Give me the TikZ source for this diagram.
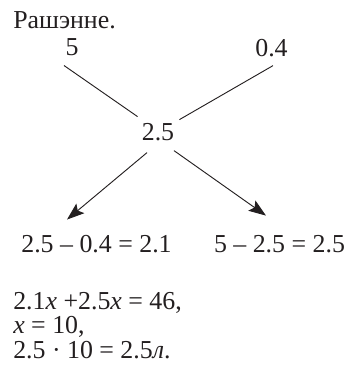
\documentclass[tikz,border=0pt]{standalone}
\usepackage{fontspec}
\setmainfont{Liberation Serif}
\usepackage{tikz}
\usepackage{xcolor}
\usetikzlibrary{arrows.meta, positioning, calc}
\definecolor{ink}{HTML}{231F20}
\tikzset{
  numlabel/.style={
    inner sep=0pt, anchor=base, text=ink,
    font=\fontsize{19.5}{22}\selectfont
  },
  eqline/.style={
    numlabel, anchor=base west
  },
  plainline/.style={line width=0.7pt, color=ink},
  darrow/.style={-{Stealth[length=4.6mm, width=3.3mm, inset=0.9mm]}, line width=0.7pt, color=ink}
}

\begin{document}
\begin{tikzpicture}[x=0.0265cm, y=-0.0265cm]
    \useasboundingbox (0,0) rectangle (348,366);

    % Heading
    \node[eqline] (head) at (13,28) {Рашэнне.};

    % Top numbers and middle value
    \node[numlabel] (five) at (72,55) {5};
    \node[numlabel] (pt4) at (271.5,56) {0.4};
    \node[numlabel] (mid) at (158,140) {2.5};

    % Results of the cross
    \node[numlabel] (resl) at (96.5,252) {2.5 – 0.4 = 2.1};
    \node[numlabel] (resr) at (279.5,252) {5 – 2.5 = 2.5};

    % Cross lines
    \draw[plainline] ([shift={(-8,10)}]five.south) -- ([shift={(-4,-6)}]mid.north west);
    \draw[plainline] ([shift={(1.5,9)}]pt4.south) -- ([shift={(5,-3)}]mid.north east);

    % Arrows down to the results
    \draw[darrow] ([shift={(-11,12)}]mid.south) -- ([shift={(-29.5,-15)}]resl.north);
    \draw[darrow] ([shift={(16,10)}]mid.south) -- ([shift={(-13.5,-19)}]resr.north);

    % Equation
    \node[eqline] (eqa) at (13,309) {2.1\textit{x} +2.5\textit{x} = 46,};
    \node[eqline] (eqb) at (13,333) {\textit{x} = 10,};
    \node[eqline] (eqc) at (13,358) {2.5 · 10 = 2.5\textit{л}.};
  \end{tikzpicture}
\end{document}
